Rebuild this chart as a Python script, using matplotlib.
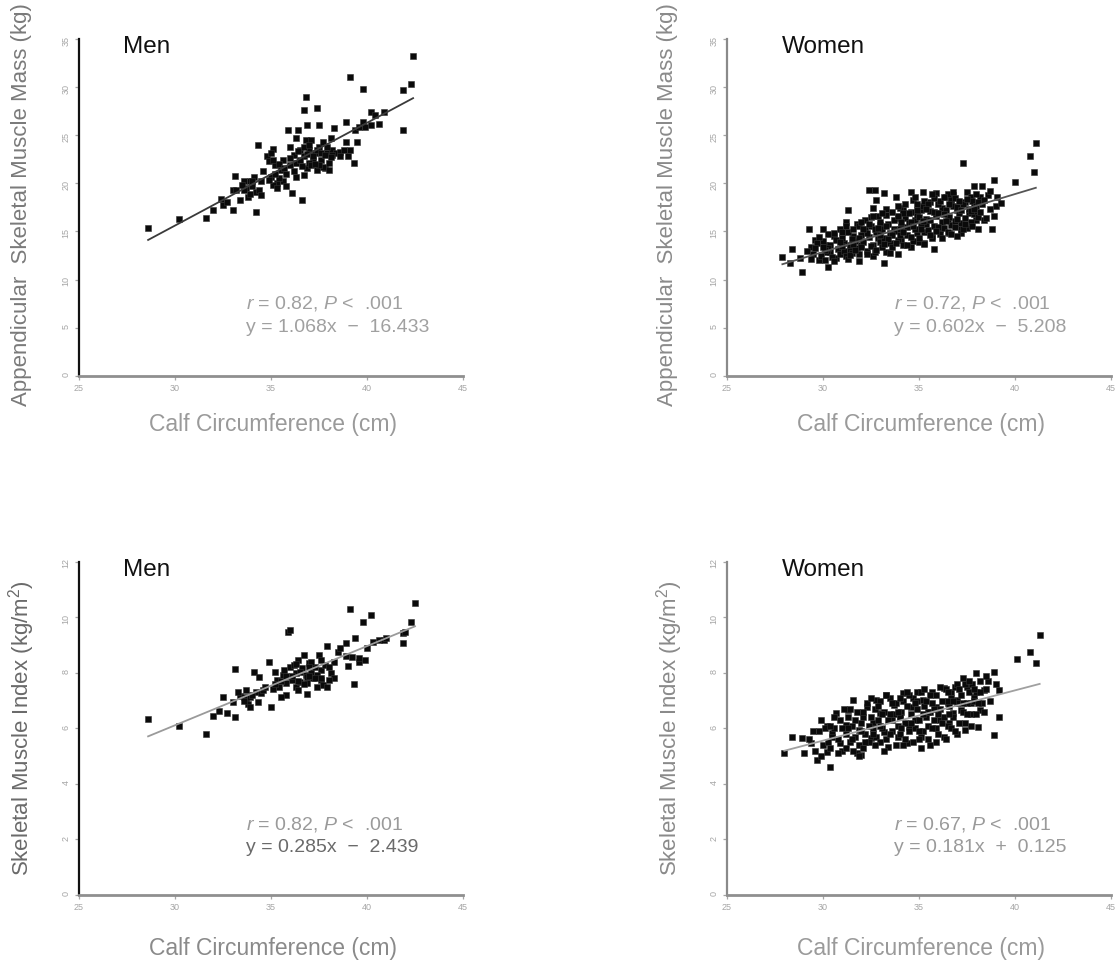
import matplotlib
matplotlib.use("Agg")
import matplotlib.pyplot as plt
import numpy as np

plt.rcParams['font.family'] = ['Liberation Sans', 'DejaVu Sans']
plt.rcParams['mathtext.fontset'] = 'custom'
plt.rcParams['mathtext.it'] = 'Liberation Sans:italic'
plt.rcParams['mathtext.rm'] = 'Liberation Sans'

# ---------------- data ----------------
men_asm_x = [28.6, 30.2, 31.6, 32.0, 32.4, 32.5, 32.7, 33.0, 33.0, 33.1, 33.4, 33.6, 33.7, 33.8, 33.9,
             34.1, 34.2, 34.2, 34.3, 34.4, 34.5, 34.8, 34.9, 35.0, 35.1, 35.2, 35.3, 35.5, 35.6, 35.6,
             35.8, 35.9, 36.0, 36.1, 36.2, 36.3, 36.3, 36.4, 36.5, 36.6, 36.7, 36.7, 36.7, 36.8, 36.8,
             36.9, 36.9, 37.0, 37.1, 37.2, 37.3, 37.4, 37.4, 37.5, 37.5, 37.6, 37.7, 37.8, 37.9, 38.0,
             38.1, 38.2, 38.3, 38.4, 38.6, 38.8, 38.9, 38.9, 39.0, 39.1, 39.1, 39.3, 39.4, 39.5, 39.6,
             39.8, 39.8, 39.9, 40.2, 40.2, 40.4, 40.6, 40.9, 41.9, 41.9, 42.3, 42.4,
             35.1, 35.4, 36.7, 37.0, 37.4, 37.7, 37.9, 38.0, 35.8, 36.0, 35.1, 35.3, 33.2, 33.6, 34.0,
             34.5, 35.0, 36.3, 37.2, 37.5, 38.2, 38.6,
             35.4, 35.7, 36.0, 36.2, 36.5, 36.6, 36.9, 37.1, 37.3, 37.6, 37.8, 38.1, 34.6, 34.9, 35.2,
             34.0, 33.5, 33.9, 36.4, 37.0]
men_asm_y = [15.4, 16.3, 16.4, 17.2, 18.4, 17.7, 18.1, 17.2, 19.3, 20.8, 18.3, 20.2, 19.5, 18.6, 20.2,
             20.7, 19.1, 17.0, 24.0, 19.3, 18.8, 22.8, 22.3, 20.7, 23.6, 21.9, 20.0, 21.4, 20.2, 22.4,
             21.0, 25.5, 23.8, 19.0, 22.9, 24.7, 22.1, 25.5, 23.5, 18.3, 20.9, 22.8, 27.6, 24.5, 29.0,
             21.6, 26.1, 23.5, 24.5, 22.4, 23.1, 27.8, 21.4, 23.8, 26.1, 22.4, 24.3, 21.6, 23.1, 22.1,
             24.7, 23.5, 25.7, 23.1, 23.3, 23.5, 24.3, 26.4, 22.8, 31.0, 23.5, 22.1, 25.5, 24.3, 25.9,
             29.8, 26.4, 25.9, 27.4, 26.1, 27.1, 26.2, 27.4, 25.5, 29.7, 30.3, 33.2,
             22.4, 20.5, 23.8, 22.1, 23.5, 21.7, 23.8, 21.4, 19.7, 21.9, 19.8, 19.5, 19.3, 19.3, 19.7,
             20.2, 23.1, 20.7, 22.8, 21.9, 22.9, 22.8,
             22.0, 21.6, 22.6, 21.3, 22.4, 21.8, 23.0, 21.9, 22.0, 23.2, 22.9, 22.7, 21.3, 20.3, 21.0,
             20.2, 19.8, 18.9, 23.4, 24.0]

men_smi_x = [28.6, 30.2, 31.6, 32.0, 32.3, 32.5, 32.7, 33.0, 33.1, 33.1, 33.4, 33.7, 33.7, 33.8, 33.9,
             34.1, 34.2, 34.3, 34.4, 34.5, 34.6, 34.9, 35.0, 35.1, 35.2, 35.3, 35.4, 35.6, 35.7, 35.8,
             35.9, 36.0, 36.0, 36.1, 36.3, 36.3, 36.4, 36.5, 36.6, 36.7, 36.8, 36.9, 36.9, 37.0, 37.1,
             37.2, 37.3, 37.4, 37.5, 37.6, 37.6, 37.7, 37.8, 37.9, 37.9, 38.1, 38.3, 38.3, 38.5, 38.6,
             38.9, 38.9, 39.0, 39.1, 39.2, 39.3, 39.4, 39.6, 39.6, 39.8, 39.9, 40.0, 40.2, 40.3, 40.6,
             40.9, 41.0, 41.9, 41.9, 42.0, 42.3, 42.5,
             36.2, 36.5, 36.9, 37.1, 37.4, 37.6, 38.0, 36.4, 35.8, 35.5, 33.6, 33.9,
             35.5, 35.8, 36.1, 36.4, 36.7, 37.0, 37.3, 37.6, 37.0, 36.3, 35.2, 34.7, 33.3, 33.6, 34.0,
             38.0]
men_smi_y = [6.34, 6.08, 5.80, 6.44, 6.64, 7.12, 6.56, 6.96, 6.42, 8.14, 7.16, 7.38, 7.02, 6.88, 7.14,
             8.02, 7.32, 6.96, 7.84, 7.26, 7.38, 8.40, 6.78, 7.40, 8.04, 7.74, 7.50, 7.92, 8.10, 7.20,
             9.48, 9.54, 8.22, 7.74, 7.50, 7.98, 8.46, 7.68, 8.16, 8.64, 7.92, 7.24, 7.62, 8.34, 8.04,
             7.80, 8.22, 7.50, 8.64, 7.74, 8.10, 7.56, 8.28, 8.96, 7.50, 7.98, 8.40, 7.80, 8.76, 8.88,
             8.60, 9.06, 8.24, 10.30, 8.58, 7.60, 9.24, 8.40, 8.52, 9.84, 8.46, 8.88, 10.08, 9.12, 9.18,
             9.18, 9.24, 9.42, 9.06, 9.48, 9.84, 10.50,
             8.28, 8.04, 7.86, 8.40, 7.92, 8.46, 7.74, 7.38, 7.62, 7.14, 7.14, 6.78,
             7.7, 7.9, 7.9, 7.7, 7.6, 7.9, 7.8, 7.8, 8.2, 8.3, 7.6, 7.5, 7.3, 7.0, 7.2,
             8.2]

women_asm_x = [27.9, 28.3, 28.4, 28.9, 28.8, 29.3, 29.4, 29.6, 29.8, 30.0, 30.1, 30.3, 30.4, 30.6, 30.7,
               30.9, 31.1, 31.2, 31.3, 31.4, 31.6, 31.8, 31.9, 32.0, 32.2, 32.4, 32.5, 32.6, 32.6, 32.7,
               32.8, 32.9, 33.0, 33.2, 33.2, 33.3, 33.5, 33.7, 33.8, 33.9, 33.9, 34.1, 34.2, 34.4, 34.6,
               34.6, 34.7, 34.8, 34.9, 35.1, 35.2, 35.3, 35.4, 35.6, 35.7, 35.8, 35.9, 35.9, 36.1, 36.2,
               36.4, 36.5, 36.6, 36.7, 36.8, 37.0, 37.2, 37.2, 37.3, 37.4, 37.5, 37.6, 37.7, 37.9, 37.9,
               38.0, 38.1, 38.2, 38.3, 38.9, 39.1, 38.8, 40.0, 40.8, 41.0, 41.1,
               29.2, 29.5, 29.7, 29.9, 30.0, 30.2, 30.4, 30.5, 30.6, 30.8, 30.9, 31.0, 31.1, 31.2, 31.3,
               31.4, 31.5, 31.6, 31.7, 31.8, 31.9, 32.0, 32.1, 32.2, 32.3, 32.4, 32.5, 32.6, 32.7, 32.8,
               32.9, 33.0, 33.1, 33.2, 33.3, 33.4, 33.5, 33.6, 33.7, 33.8, 33.9, 34.0, 34.1, 34.2, 34.3,
               34.4, 34.5, 34.6, 34.7, 34.8, 34.9, 35.0, 35.1, 35.2, 35.3, 35.4, 35.5, 35.6, 35.7, 35.8,
               35.9, 36.0, 36.1, 36.2, 36.3, 36.4, 36.5, 36.6, 36.7, 36.8, 36.9, 37.0, 37.1, 37.2, 37.3,
               37.4, 37.5, 37.6, 37.7, 37.8, 37.9, 38.0, 38.1, 38.3, 38.4, 38.6, 38.7, 39.0, 39.3, 38.9,
               30.3, 30.7, 31.0, 31.5, 31.9, 32.3, 32.7, 33.0, 33.3, 33.6, 34.0, 34.2, 34.6, 35.0, 35.3,
               35.6, 36.0, 36.3, 36.7, 37.0, 37.3, 36.5, 35.8, 34.9, 33.9, 33.1, 32.0, 31.3, 30.1, 29.6,
               29.4, 29.8, 30.1, 30.3, 30.6, 30.9, 31.2, 31.4, 31.7, 31.9, 32.1, 32.3, 32.5, 32.6, 32.8,
               33.0, 33.1, 33.3, 33.5, 33.6, 33.8, 34.0, 34.1, 34.3, 34.4, 34.6, 34.7, 34.9, 35.0, 35.2,
               35.3, 35.5, 35.6, 35.8, 35.9, 36.1, 36.2, 36.4, 36.6, 36.7, 36.9, 37.0, 37.2, 37.4, 37.5,
               37.7, 37.8, 38.0, 38.2, 38.4, 38.5, 38.7, 32.0, 32.9, 33.9, 34.8, 35.7, 36.8, 31.0, 30.0,
               33.4, 34.2, 35.1, 36.0, 36.9, 37.9, 31.6, 32.4, 33.2, 34.5, 35.4, 36.3, 37.1, 38.1]
women_asm_y = [12.3, 11.7, 13.2, 10.8, 12.2, 15.3, 13.4, 14.1, 12.0, 15.2, 13.6, 11.3, 12.9, 14.5, 12.2,
               15.2, 13.8, 16.0, 17.2, 13.1, 14.5, 15.8, 11.9, 13.6, 15.2, 19.3, 16.5, 17.4, 12.4, 19.3,
               18.3, 14.3, 15.7, 19.0, 11.7, 16.7, 13.8, 15.2, 18.6, 12.7, 16.4, 14.1, 17.2, 15.5, 13.4,
               19.1, 18.3, 16.2, 14.8, 17.2, 19.1, 13.8, 15.8, 18.1, 14.5, 13.2, 16.9, 19.0, 15.2, 17.4,
               18.6, 16.2, 14.8, 18.1, 18.8, 17.2, 15.3, 14.8, 22.1, 18.1, 19.1, 16.9, 18.6, 19.7, 17.6,
               16.2, 15.3, 18.6, 19.7, 20.3, 18.6, 15.3, 20.1, 22.8, 21.2, 24.2,
               13.0, 12.6, 13.8, 12.4, 14.0, 12.9, 13.6, 12.3, 14.8, 13.2, 12.7, 14.3, 13.0, 12.4, 14.9,
               13.6, 12.8, 15.3, 14.0, 13.3, 12.6, 14.6, 13.9, 16.2, 13.0, 14.4, 15.6, 13.6, 12.9, 14.9,
               16.6, 13.9, 15.2, 14.3, 12.9, 15.8, 14.8, 13.4, 16.2, 15.0, 14.1, 17.4, 15.5, 13.6, 16.4,
               14.6, 15.9, 17.0, 14.0, 15.2, 16.7, 13.9, 15.8, 17.6, 14.9, 16.3, 15.1, 17.1, 14.3, 15.6,
               16.6, 17.9, 14.7, 16.0, 15.4, 17.2, 14.9, 16.5, 15.7, 17.6, 16.1, 14.5, 16.9, 15.9, 17.8,
               16.4, 15.4, 17.3, 16.0, 18.2, 16.8, 17.6, 16.5, 17.9, 16.2, 18.8, 17.3, 17.6, 18.0, 16.6,
               13.3, 14.1, 13.5, 14.2, 15.6, 14.8, 15.2, 16.0, 17.3, 14.6, 15.3, 16.9, 16.0, 16.5, 18.2,
               16.2, 15.5, 16.8, 18.4, 17.5, 15.3, 18.9, 18.5, 17.8, 16.6, 13.4, 13.4, 12.1, 12.0, 13.3,
               12.1, 14.4, 13.1, 14.7, 11.9, 13.9, 15.6, 12.5, 13.1, 14.3, 15.2, 12.6, 13.5, 16.6, 13.1,
               14.6, 16.9, 15.6, 12.8, 17.0, 13.8, 14.6, 16.0, 17.8, 13.6, 14.4, 15.6, 17.2, 14.3, 16.1,
               13.7, 17.9, 14.6, 17.0, 15.0, 18.2, 14.3, 16.1, 17.9, 14.7, 18.5, 16.3, 17.2, 15.8, 18.4,
               17.1, 15.6, 18.9, 17.0, 18.3, 16.4, 19.2, 16.0, 15.4, 17.6, 18.6, 18.9, 19.1, 14.9, 13.4,
               14.2, 14.9, 15.3, 16.9, 15.5, 17.3, 13.7, 15.8, 13.7, 16.9, 17.3, 18.6, 18.2, 18.1]

women_smi_x = [28.0, 28.4, 28.9, 29.0, 29.4, 29.7, 29.9, 30.4, 30.2, 30.5, 30.7, 30.9, 31.2, 31.3, 31.6,
               31.8, 31.9, 32.0, 32.1, 32.3, 32.5, 32.6, 32.8, 33.0, 33.2, 33.3, 33.4, 33.6, 33.7, 33.9,
               34.0, 34.2, 34.4, 34.5, 34.6, 34.8, 34.9, 35.1, 35.2, 35.4, 35.6, 35.7, 35.9, 35.9, 36.1,
               36.3, 36.5, 36.6, 36.7, 36.8, 37.0, 37.2, 37.3, 37.4, 37.5, 37.7, 37.9, 38.0, 38.1, 38.2,
               38.4, 38.9, 38.9, 39.2, 39.2, 40.1, 40.8, 41.1, 41.3,
               29.3, 29.6, 29.8, 30.0, 30.2, 30.4, 30.6, 30.8, 30.9, 31.0, 31.2, 31.3, 31.4, 31.5, 31.7,
               31.8, 31.9, 32.0, 32.2, 32.3, 32.4, 32.5, 32.6, 32.7, 32.8, 32.9, 33.0, 33.1, 33.2, 33.3,
               33.4, 33.5, 33.6, 33.7, 33.8, 33.9, 34.0, 34.1, 34.2, 34.3, 34.4, 34.5, 34.6, 34.7, 34.8,
               34.9, 35.0, 35.1, 35.2, 35.3, 35.4, 35.5, 35.6, 35.7, 35.8, 35.9, 36.0, 36.1, 36.2, 36.3,
               36.4, 36.5, 36.6, 36.7, 36.8, 36.9, 37.0, 37.1, 37.2, 37.3, 37.4, 37.5, 37.6, 37.7, 37.8,
               37.9, 38.0, 38.2, 38.3, 38.5, 38.7, 38.6, 39.0,
               30.5, 31.1, 32.1, 33.5, 34.5, 35.5, 36.5, 37.0, 36.0, 34.0, 33.0, 32.0, 31.6, 35.0, 36.3,
               29.5, 29.9, 30.1, 30.3, 30.6, 30.8, 31.0, 31.2, 31.4, 31.5, 31.7, 31.9, 32.1, 32.2, 32.4,
               32.5, 32.7, 32.9, 33.0, 33.2, 33.3, 33.5, 33.6, 33.8, 34.0, 34.1, 34.3, 34.4, 34.6, 34.7,
               34.9, 35.0, 35.2, 35.3, 35.5, 35.6, 35.8, 35.9, 36.1, 36.2, 36.4, 36.5, 36.7, 36.8, 37.0,
               37.1, 37.3, 37.4, 37.6, 37.7, 37.9, 38.0, 38.2, 38.4, 38.5, 38.1, 31.3, 32.6, 33.9, 34.8,
               35.7, 36.6, 37.5, 30.4, 33.1, 34.2, 36.9, 35.1]
women_smi_y = [5.10, 5.70, 5.64, 5.10, 5.46, 4.86, 6.30, 4.62, 5.16, 5.82, 6.54, 5.46, 6.12, 6.66, 7.02,
               5.10, 5.94, 5.04, 6.42, 6.78, 5.64, 6.18, 7.02, 6.54, 5.88, 7.20, 5.34, 6.30, 6.84, 5.70,
               6.42, 7.26, 5.46, 6.06, 6.78, 6.30, 7.32, 5.70, 7.02, 6.42, 5.40, 7.32, 6.00, 6.78, 6.30,
               7.44, 6.90, 6.18, 7.32, 6.54, 7.02, 6.66, 7.80, 5.94, 7.50, 6.90, 7.14, 7.98, 6.06, 6.66,
               7.38, 8.04, 5.76, 7.38, 6.42, 8.48, 8.76, 8.36, 9.36,
               5.6, 5.2, 5.9, 5.4, 6.1, 5.3, 6.0, 5.6, 6.3, 5.2, 5.8, 6.4, 5.5, 6.1, 5.7,
               6.6, 5.4, 6.2, 5.8, 6.9, 5.5, 6.4, 6.0, 6.7, 5.7, 6.3, 7.0, 6.0, 6.6, 5.6,
               6.3, 7.1, 5.9, 6.5, 6.9, 6.1, 5.8, 6.6, 7.0, 6.2, 6.8, 5.9, 6.5, 7.1, 6.0,
               6.7, 6.3, 7.3, 5.9, 6.8, 7.0, 6.1, 6.6, 6.9, 6.3, 7.2, 5.8, 6.7, 7.0, 6.4,
               7.4, 6.1, 6.8, 7.1, 6.4, 7.5, 6.9, 6.2, 7.2, 6.6, 7.6, 6.9, 7.3, 6.5, 7.6,
               7.0, 7.3, 7.7, 6.9, 7.4, 7.0, 7.7, 7.6,
               5.7, 6.7, 5.3, 6.5, 7.2, 6.6, 7.0, 7.6, 6.5, 6.4, 5.5, 5.9, 5.2, 5.6, 5.7,
               5.9, 5.0, 6.0, 5.5, 6.4, 5.1, 6.0, 5.3, 6.7, 5.6, 6.3, 5.0, 6.6, 5.5, 6.1,
               7.1, 5.4, 6.8, 6.1, 5.2, 7.2, 5.8, 6.9, 5.4, 7.1, 6.0, 5.6, 7.3, 6.2, 5.5,
               7.0, 5.9, 6.5, 7.4, 5.6, 7.2, 6.7, 5.5, 7.5, 6.2, 5.6, 7.3, 6.0, 7.0, 5.8,
               7.4, 6.9, 6.2, 7.7, 6.1, 7.4, 6.5, 7.3, 6.6, 7.9, 6.9, 6.0, 5.8, 6.6, 6.9,
               6.0, 6.5, 6.5, 6.1, 6.5, 5.4, 5.9, 5.3]

# regression (slope, intercept) as printed on the chart
men_asm_fit = (1.068, -16.433)
women_asm_fit = (0.602, -5.208)
men_smi_fit = (0.285, -2.439)
women_smi_fit = (0.181, 0.125)

panels = [
    dict(x=men_asm_x, y=men_asm_y, fit=men_asm_fit, title='Men',
         stat1=r'$r$ = 0.82, $P$ <  .001', stat2='y = 1.068x  \u2212  16.433',
         ylim=(0, 35), yticks=[0, 5, 10, 15, 20, 25, 30, 35],
         ylabel='Appendicular  Skeletal Muscle Mass (kg)'),
    dict(x=women_asm_x, y=women_asm_y, fit=women_asm_fit, title='Women',
         stat1=r'$r$ = 0.72, $P$ <  .001', stat2='y = 0.602x  \u2212  5.208',
         ylim=(0, 35), yticks=[0, 5, 10, 15, 20, 25, 30, 35],
         ylabel='Appendicular  Skeletal Muscle Mass (kg)'),
    dict(x=men_smi_x, y=men_smi_y, fit=men_smi_fit, title='Men',
         stat1=r'$r$ = 0.82, $P$ <  .001', stat2='y = 0.285x  \u2212  2.439',
         ylim=(0, 12), yticks=[0, 2, 4, 6, 8, 10, 12],
         ylabel='Skeletal Muscle Index (kg/m$^2$)'),
    dict(x=women_smi_x, y=women_smi_y, fit=women_smi_fit, title='Women',
         stat1=r'$r$ = 0.67, $P$ <  .001', stat2='y = 0.181x  +  0.125',
         ylim=(0, 12), yticks=[0, 2, 4, 6, 8, 10, 12],
         ylabel='Skeletal Muscle Index (kg/m$^2$)'),
]
xticks = [25, 30, 35, 40, 45]

# ---------------- layout ----------------
W, H = 1115, 960
fig = plt.figure(figsize=(W / 100, H / 100), dpi=100)
rects = [
    (79, 39, 384, 336.7),
    (726.7, 39, 384, 336.7),
    (79, 561.7, 384, 333.3),
    (726.7, 561.7, 384, 333.3),
]
ylab_pos = [(22, 205), (668, 205), (22, 728), (670, 728)]
xlab_pos = [(273, 425), (921, 425), (273, 948), (921, 948)]
left_spine_col = ['#111111', '#8a8a8a', '#111111', '#8a8a8a']
line_col = ['#3a3a3a', '#555555', '#9a9a9a', '#a0a0a0']
stat_col = ['#a0a0a0', '#a0a0a0', '#9a9a9a', '#9a9a9a']
stat2_col = ['#a0a0a0', '#a0a0a0', '#6a6a6a', '#9a9a9a']
ylab_col = ['#7a7a7a', '#8a8a8a', '#6a6a6a', '#8a8a8a']
xlab_col = ['#9a9a9a', '#9a9a9a', '#8a8a8a', '#9a9a9a']

for i, p in enumerate(panels):
    lx, ty, w, h = rects[i]
    ax = fig.add_axes([lx / W, 1 - (ty + h) / H, w / W, h / H])
    ax.set_xlim(25, 45)
    ax.set_ylim(*p['ylim'])
    ax.set_xticks(xticks)
    ax.set_yticks(p['yticks'])
    for s in ['top', 'right']:
        ax.spines[s].set_visible(False)
    ax.spines['left'].set_color(left_spine_col[i])
    ax.spines['left'].set_linewidth(1.6)
    ax.spines['bottom'].set_color('#8f8f8f')
    ax.spines['bottom'].set_linewidth(2.0)
    ax.tick_params(direction='out', length=3, width=0.9, colors='#a5a5a5',
                   labelsize=6.5, pad=3)
    ax.tick_params(axis='y', labelrotation=90)

    x = np.array(p['x'])
    y = np.array(p['y'])
    ax.scatter(x, y, marker='s', s=20, c='#0a0a0a', edgecolors='#333333',
               linewidths=0.4, zorder=3)
    xs = np.array([x.min(), x.max()])
    m, b = p['fit']
    ax.plot(xs, m * xs + b, color=line_col[i], lw=1.3, zorder=4)

    ax.text(0.115 if i % 2 == 0 else 0.143, 0.975, p['title'], transform=ax.transAxes,
            fontsize=17.5, color='#111111', ha='left', va='center')
    ax.text(0.435, 0.213, p['stat1'], transform=ax.transAxes, fontsize=14,
            color=stat_col[i], ha='left', va='center')
    ax.text(0.435, 0.142, p['stat2'], transform=ax.transAxes, fontsize=14,
            color=stat2_col[i], ha='left', va='center')

    yx, yy = ylab_pos[i]
    fig.text(yx / W, 1 - yy / H, p['ylabel'], rotation=90, ha='center', va='center',
             fontsize=16, color=ylab_col[i])
    xx, xy = xlab_pos[i]
    fig.text(xx / W, 1 - xy / H, 'Calf Circumference (cm)', ha='center', va='center',
             fontsize=16.5, color=xlab_col[i])

fig.savefig('out.png', dpi=100, facecolor='white')
